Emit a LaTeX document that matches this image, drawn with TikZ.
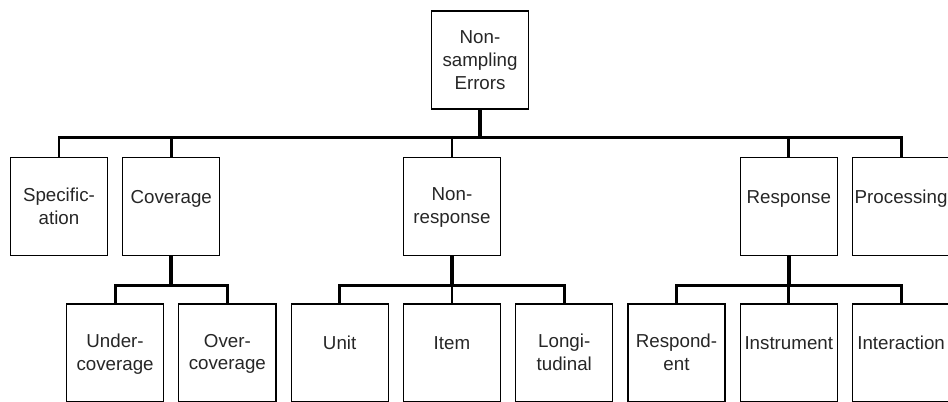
\documentclass[tikz,border=0pt]{standalone}
\usepackage{fontspec}
\setmainfont{Liberation Sans}
\usepackage{tikz}
\usetikzlibrary{positioning}

\newcommand{\boxfont}{\fontsize{13.3}{16.1}\selectfont}

\begin{document}
\begin{tikzpicture}[
    box/.style={rectangle, draw, line width=0.9pt, minimum width=2.42cm, minimum height=2.44cm, inner sep=0pt},
    boxtext/.style={anchor=north, yshift=-0.759cm, align=center, font=\boxfont, text=black!85, inner sep=0pt, execute at begin node=\strut},
    txt/.style={label={[boxtext]north:#1}},
    wire/.style={line width=2pt},
    stem/.style={line width=2.7pt}
]
\useasboundingbox (0,-10) rectangle (23.64,0);
% Top of the tree
\node[box, align=center, font=\boxfont, text=black!85] (root) at (11.97,-1.496) {Non-\\sampling\\Errors};
% Error sources
\node[box, txt={Specific-\\ation}] (spec) at (1.47,-5.155) {};
\node[box, txt={Coverage}] (cov) at (4.27,-5.155) {};
\node[box, txt={Non-\\response}] (nonr) at (11.27,-5.155) {};
\node[box, txt={Response}] (resp) at (19.67,-5.155) {};
\node[box, txt={Processing}] (proc) at (22.47,-5.155) {};
% Coverage
\node[box, txt={Under-\\coverage}] (under) at (2.87,-8.8) {};
\node[box, txt={Over-\\coverage}] (over) at (5.67,-8.8) {};
% Nonresponse
\node[box, txt={Unit}] (unit) at (8.47,-8.8) {};
\node[box, txt={Item}] (item) at (11.27,-8.8) {};
\node[box, txt={Longi-\\tudinal}] (longi) at (14.07,-8.8) {};
% Response
\node[box, txt={Respond-\\ent}] (respd) at (16.87,-8.8) {};
\node[box, txt={Instrument}] (instr) at (19.67,-8.8) {};
\node[box, txt={Interaction}] (inter) at (22.47,-8.8) {};
% First level connectors
\coordinate[below=0.706cm of root.south] (bus);
\draw[stem] (root) -- (bus);
\draw[wire] (spec) |- (bus) -| (proc);
\foreach \n in {cov,nonr,resp}
    \draw[wire] (\n) -- (\n |- bus);
% Second level connectors
\coordinate[below=0.73cm of cov.south] (covbus);
\draw[stem] (cov) -- (covbus);
\draw[wire] (under) |- (covbus) -| (over);
\coordinate[below=0.73cm of nonr.south] (nonrbus);
\draw[stem] (nonr) -- (nonrbus);
\draw[wire] (unit) |- (nonrbus) -| (longi);
\draw[wire] (item) -- (nonrbus);
\coordinate[below=0.73cm of resp.south] (respbus);
\draw[stem] (resp) -- (respbus);
\draw[wire] (respd) |- (respbus) -| (inter);
\draw[wire] (instr) -- (respbus);
\end{tikzpicture}
\end{document}
